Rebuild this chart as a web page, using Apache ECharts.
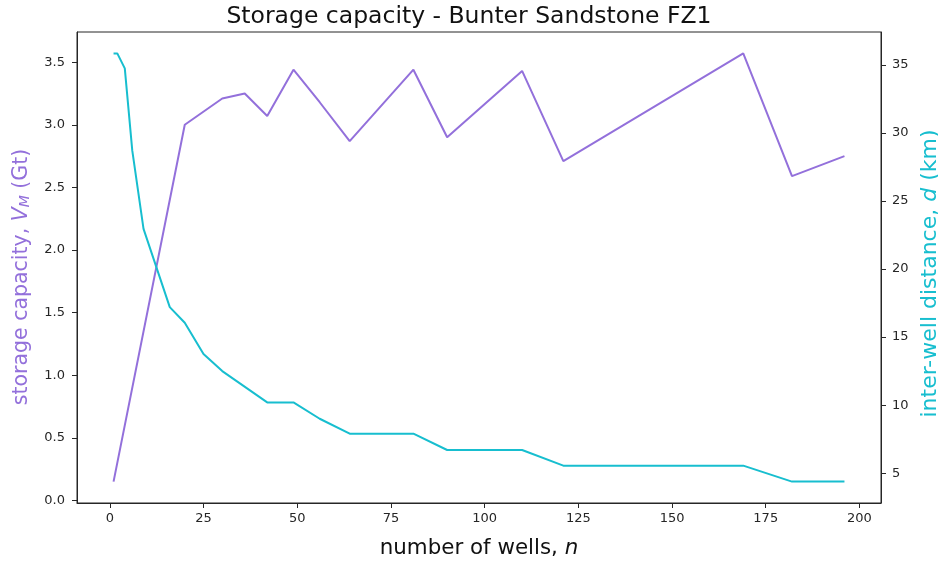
<!DOCTYPE html>
<html>
<head>
<meta charset="utf-8">
<script src="https://cdn.jsdelivr.net/npm/echarts@6/dist/echarts.min.js"></script>
<style>
  html, body { margin: 0; padding: 0; background: #fff; }
  #chart { width: 938px; height: 563px; }
</style>
</head>
<body>
<div id="chart"></div>
<script>
// Storage capacity against number of wells
const wellsCapacity = [1, 20, 30, 36, 42, 49, 56, 64, 81, 90, 110, 121, 169, 182, 196];
const capacityGt    = [0.15, 3.0, 3.21, 3.25, 3.07, 3.44, 3.18, 2.87, 3.44, 2.90, 3.43, 2.71, 3.57, 2.59, 2.75];

// Inter-well distance against number of wells
const wellsDistance = [1, 2, 4, 6, 9, 16, 20, 25, 30, 42, 49, 56, 64, 81, 90, 110, 121, 169, 182, 196];
const distanceKm    = [35.85, 35.85, 34.75, 28.7, 22.95, 17.2, 16.05, 13.75, 12.5, 10.2, 10.2, 9.0, 7.9, 7.9, 6.7, 6.7, 5.55, 5.55, 4.38, 4.38];

// Tick labels
const xTicks = [0, 25, 50, 75, 100, 125, 150, 175, 200];
const leftTicks = [0.0, 0.5, 1.0, 1.5, 2.0, 2.5, 3.0, 3.5];
const rightTicks = [5, 10, 15, 20, 25, 30, 35];

const PURPLE = '#9370db';
const CYAN = '#17becf';
const INK = '#262626';
const FONT = 'DejaVu Sans';

// 5% padding on each side of the data range
function padded(values) {
  const lo = Math.min(...values), hi = Math.max(...values);
  const m = (hi - lo) * 0.05;
  return [lo - m, hi + m];
}
const xRange = padded(wellsCapacity.concat(wellsDistance));
const leftRange = padded(capacityGt);
const rightRange = padded(distanceKm);

const zip = (xs, ys) => xs.map((x, i) => [x, ys[i]]);

const tickStyle = { show: true, inside: false, length: 5, lineStyle: { color: INK, width: 1 } };
const labelStyle = { color: INK, fontFamily: FONT, fontSize: 13 };
const lineStyleAxis = { show: true, onZero: false, lineStyle: { color: INK, width: 1 } };

const chart = echarts.init(document.getElementById('chart'), null, { renderer: 'canvas' });
chart.setOption({
  backgroundColor: '#ffffff',
  animation: false,
  title: {
    text: 'Storage capacity - Bunter Sandstone FZ1',
    left: 464,
    textAlign: 'center',
    top: 0,
    textStyle: { color: '#111', fontFamily: FONT, fontSize: 23.5, fontWeight: 'normal' }
  },
  grid: {
    left: 77, right: 57, top: 32, bottom: 60,
    outerBoundsMode: 'none',
    containLabel: false,
    show: true, borderColor: INK, borderWidth: 1, backgroundColor: 'transparent'
  },
  xAxis: {
    type: 'value',
    min: xRange[0], max: xRange[1],
    name: '{t|number of wells, }{i|n}',
    nameLocation: 'middle',
    nameGap: 35,
    nameTextStyle: {
      rich: {
        t: { fontFamily: FONT, fontSize: 21.4, color: '#111' },
        i: { fontFamily: FONT, fontSize: 21.4, fontStyle: 'italic', color: '#111' }
      }
    },
    axisLine: lineStyleAxis,
    axisTick: Object.assign({ customValues: xTicks }, tickStyle),
    axisLabel: Object.assign({ customValues: xTicks, margin: 9, formatter: v => String(v) }, labelStyle),
    splitLine: { show: false }
  },
  yAxis: [
    {
      type: 'value',
      position: 'left',
      min: leftRange[0], max: leftRange[1],
      name: '{t|storage capacity, }{i|V}{s|M}{t| (Gt)}',
      nameLocation: 'middle',
      nameGap: 45,
      nameRotate: 90,
      nameTextStyle: {
        padding: [0, 19, 0, 0],
        rich: {
          t: { fontFamily: FONT, fontSize: 20.5, color: PURPLE },
          i: { fontFamily: FONT, fontSize: 20.5, fontStyle: 'italic', color: PURPLE },
          s: { fontFamily: FONT, fontSize: 14, fontStyle: 'italic', color: PURPLE, padding: [7, 0, 0, 0] }
        }
      },
      axisLine: lineStyleAxis,
      axisTick: Object.assign({ customValues: leftTicks }, tickStyle),
      axisLabel: Object.assign({ customValues: leftTicks, margin: 12, formatter: v => v.toFixed(1) }, labelStyle),
      splitLine: { show: false }
    },
    {
      type: 'value',
      position: 'right',
      min: rightRange[0], max: rightRange[1],
      name: '{t|inter-well distance, }{i|d}{t| (km)}',
      nameLocation: 'middle',
      nameGap: 33,
      nameRotate: 90,
      nameTextStyle: {
        padding: [0, 12, 0, 0],
        rich: {
          t: { fontFamily: FONT, fontSize: 22, color: CYAN },
          i: { fontFamily: FONT, fontSize: 22, fontStyle: 'italic', color: CYAN }
        }
      },
      axisLine: lineStyleAxis,
      axisTick: Object.assign({ customValues: rightTicks }, tickStyle),
      axisLabel: Object.assign({ customValues: rightTicks, margin: 11, formatter: v => String(v) }, labelStyle),
      splitLine: { show: false }
    }
  ],
  series: [
    {
      name: 'storage capacity',
      type: 'line',
      yAxisIndex: 0,
      data: zip(wellsCapacity, capacityGt),
      showSymbol: false,
      lineStyle: { color: PURPLE, width: 2 },
      itemStyle: { color: PURPLE },
      z: 3
    },
    {
      name: 'inter-well distance',
      type: 'line',
      yAxisIndex: 1,
      data: zip(wellsDistance, distanceKm),
      showSymbol: false,
      lineStyle: { color: CYAN, width: 2 },
      itemStyle: { color: CYAN },
      z: 4
    }
  ]
});
</script>
</body>
</html>
